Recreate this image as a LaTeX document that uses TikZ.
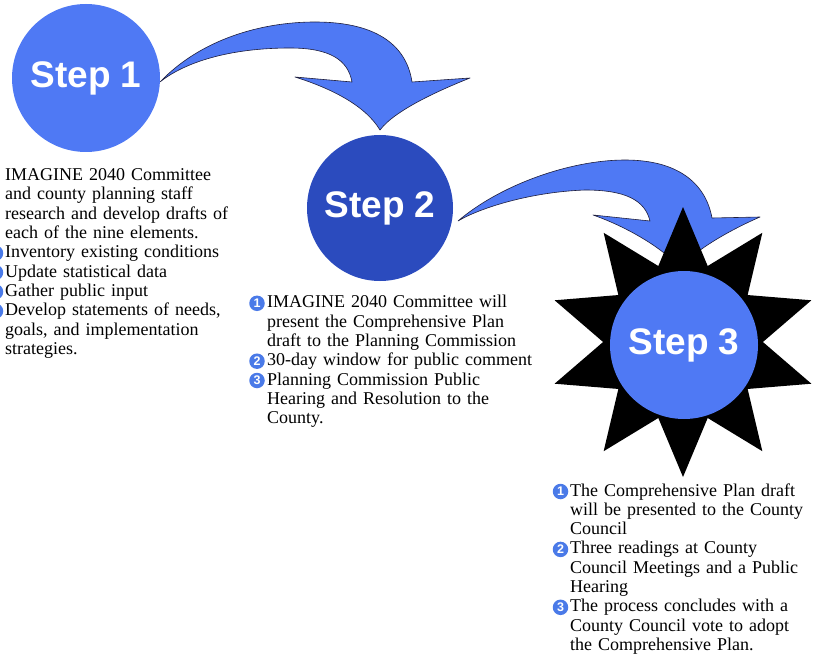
\documentclass[tikz,border=0pt]{standalone}
\usepackage{fontspec}
\setmainfont{Liberation Serif}
\newfontfamily\stepfont{Liberation Sans}
\usetikzlibrary{shapes.geometric}
\definecolor{lblue}{RGB}{79,121,244}
\definecolor{dblue}{RGB}{43,75,190}
\definecolor{bblue}{RGB}{74,122,232}
\definecolor{aline}{RGB}{30,30,60}
\tikzset{
  stepcircle/.style={circle, minimum size=148pt, inner sep=0pt, text=white,
    font=\stepfont\bfseries\fontsize{37}{40}\selectfont},
  bodytext/.style={font=\fontsize{18}{19.3}\selectfont, text width=320pt,
    align=left, inner sep=0pt, anchor=base west},
  numbullet/.style={circle, fill=bblue, minimum size=15.5pt, inner sep=0pt,
    text=white, font=\stepfont\bfseries\fontsize{12.5}{12.5}\selectfont},
  bigarrow/.style={fill=lblue, draw=aline, line width=0.6pt, line join=round},
}
\begin{document}
\begin{tikzpicture}[x=1pt,y=-1pt]
\useasboundingbox[fill=white] (0,0) rectangle (817,666);

% arrow 1 (Step 1 -> Step 2)
\coordinate (a1s) at (160,82);
\coordinate (a1tip) at (380,130);
\draw[bigarrow] (a1s) .. controls (200,40) and (260,22) .. (315,22)
  .. controls (380,22) and (407,48) .. (412,82) -- (470,78)
  .. controls (440,90) and (395,110) .. (a1tip)
  .. controls (365,105) and (330,88) .. (295,77) -- (352,82)
  .. controls (348,60) and (330,48) .. (290,48)
  .. controls (230,48) and (185,62) .. (a1s) -- cycle;

% arrow 2 (Step 2 -> Step 3)
\coordinate (a2s) at (458,221);
\coordinate (a2tip) at (680,268);
\draw[bigarrow] (a2s) .. controls (500,185) and (570,160) .. (625,160)
  .. controls (680,160) and (706,185) .. (712,218) -- (760,217)
  .. controls (730,230) and (695,250) .. (a2tip)
  .. controls (665,250) and (630,228) .. (593,215) -- (650,221)
  .. controls (645,200) and (625,190) .. (585,190)
  .. controls (530,192) and (480,208) .. (a2s) -- cycle;

% circles
\node[stepcircle, fill=lblue] (step1) at (86,78) {Step 1};
\node[stepcircle, fill=dblue, minimum size=146pt] (step2) at (380,208) {Step 2};
\node[star, star points=10, star point ratio=1.69, minimum size=270pt,
  inner sep=0pt, fill=black] (burst) at (683,342) {};
\node[stepcircle, fill=lblue] (step3) at (684,345) {Step 3};

% Step 1 text
\node[bodytext] (t1) at (5,180.7) {IMAGINE 2040 Committee\\
and county planning staff\\
research and develop drafts of\\
each of the nine elements.\\
Inventory existing conditions\\
Update statistical data\\
Gather public input\\
Develop statements of needs,\\
goals, and implementation\\
strategies.};
\node[numbullet] (b11) at (-4.5,253.2) {};
\node[numbullet] (b12) at (-4.5,272.5) {};
\node[numbullet] (b13) at (-4.5,291.8) {};
\node[numbullet] (b14) at (-4.5,311.1) {};

% Step 2 text
\node[bodytext] (t2) at (267,307.8) {IMAGINE 2040 Committee will\\
present the Comprehensive Plan\\
draft to the Planning Commission\\
30-day window for public comment\\
Planning Commission Public\\
Hearing and Resolution to the\\
County.};
\node[numbullet] (b21) at (257,303.3) {1};
\node[numbullet] (b22) at (257,361.2) {2};
\node[numbullet] (b23) at (257,380.5) {3};

% Step 3 text
\node[bodytext] (t3) at (570,496) {The Comprehensive Plan draft\\
will be presented to the County\\
Council\\
Three readings at County\\
Council Meetings and a Public\\
Hearing\\
The process concludes with a\\
County Council vote to adopt\\
the Comprehensive Plan.};
\node[numbullet] (b31) at (560.5,491.5) {1};
\node[numbullet] (b32) at (560.5,549.4) {2};
\node[numbullet] (b33) at (560.5,607.3) {3};
\end{tikzpicture}
\end{document}
